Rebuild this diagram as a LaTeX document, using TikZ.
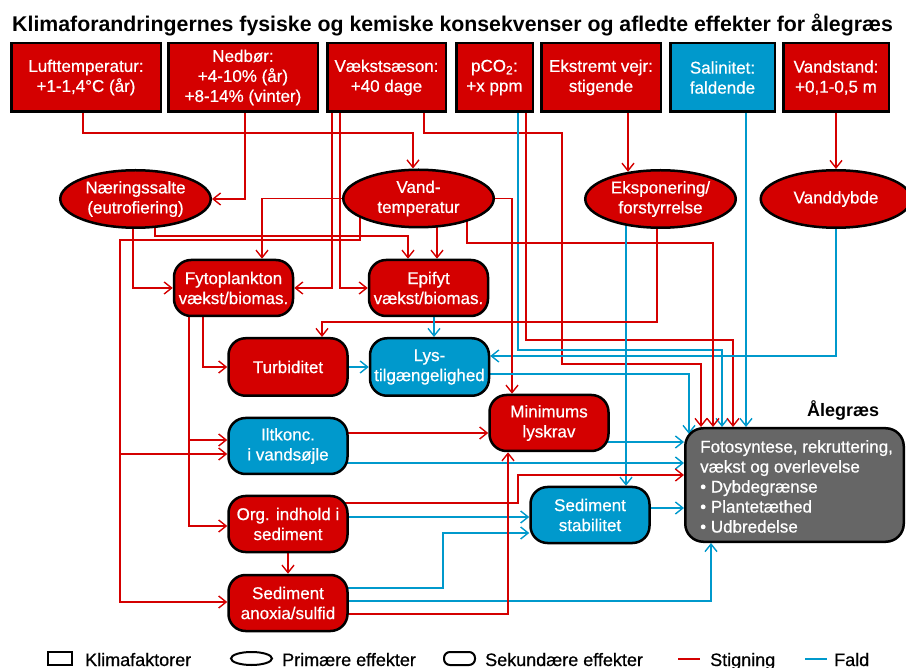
\documentclass[tikz,border=0pt]{standalone}
\usepackage{fontspec}
\setmainfont{Liberation Sans}
\newfontfamily\heavyfont{Liberation Sans}[FakeBold=0.6]
\usetikzlibrary{arrows.meta,backgrounds,shapes.geometric}
\definecolor{rd}{RGB}{212,0,0}
\definecolor{bl}{RGB}{0,153,204}
\definecolor{gr}{RGB}{102,102,102}
\begin{document}
\begin{tikzpicture}[x=1pt,y=-1pt,
  txt/.style={font=\heavyfont\fontsize{17}{20}\selectfont, text=white, align=center},
  klima/.style={txt, rectangle, draw=black, line width=2.5pt, fill=rd, minimum height=68.5pt, inner sep=0pt},
  prim/.style={txt, ellipse, draw=black, line width=2.5pt, fill=rd, minimum width=150.5pt, minimum height=57.5pt, inner sep=0pt},
  sek/.style={txt, rectangle, rounded corners=17pt, draw=black, line width=2.5pt, fill=rd, minimum width=119pt, minimum height=56pt, inner sep=0pt},
  blue/.style={fill=bl},
  rl/.style={draw=rd, line width=1.4pt, -{Straight Barb[length=7.5pt,width=12pt,line width=1.4pt]}},
  bla/.style={draw=bl, line width=1.4pt, -{Straight Barb[length=7.5pt,width=12pt,line width=1.4pt]}},
  leg/.style={font=\heavyfont\fontsize{18}{20}\selectfont, anchor=base west, inner sep=0pt}
]
\useasboundingbox (0,0) rectangle (906,668);

% title
\node[anchor=base west, inner sep=0pt, font=\fontsize{21.3}{24}\selectfont\bfseries] (title) at (12,32) {Klimaforandringernes fysiske og kemiske konsekvenser og afledte effekter for ålegræs};

% climate factors
\node[klima, minimum width=149.5pt] (luft) at (86,77.5) {Lufttemperatur:\\+1-1,4°C (år)};
\node[klima, minimum width=149.5pt] (nedb) at (243,77.5) {Nedbør:\\+4-10\% (år)\\+8-14\% (vinter)};
\node[klima, minimum width=118.5pt] (vaekst) at (386.5,77.5) {Vækstsæson:\\+40 dage};
\node[klima, minimum width=76.5pt] (pco) at (494.5,77.5) {pCO\textsubscript{2}:\\+x ppm};
\node[klima, minimum width=119.5pt] (ekst) at (601,77.5) {Ekstremt vejr:\\stigende};
\node[klima, blue, minimum width=104.5pt] (salin) at (722.5,77.5) {Salinitet:\\faldende};
\node[klima, minimum width=105.5pt] (vandst) at (836,77.5) {Vandstand:\\+0,1-0,5 m};

% primary effects
\node[prim] (naer) at (135.5,199) {Næringssalte\\(eutrofiering)};
\node[prim] (vtemp) at (418.5,198.5) {Vand-\\temperatur};
\node[prim] (eksp) at (660.5,199) {Eksponering/\\forstyrrelse};
\node[prim] (vdyb) at (836,199) {Vanddybde};

% secondary effects
\node[sek] (fyto) at (233.5,288) {Fytoplankton\\vækst/biomas.};
\node[sek] (epi) at (428.5,288) {Epifyt\\vækst/biomas.};
\node[sek, minimum height=57.5pt] (turb) at (288,367) {Turbiditet};
\node[sek, blue, minimum height=57.5pt] (lys) at (429.5,367) {Lys-\\tilgængelighed};
\node[sek, blue] (ilt) at (288,446) {Iltkonc.\\i vandsøjle};
\node[sek] (minl) at (549,423) {Minimums\\lyskrav};
\node[sek] (org) at (288,524) {Org. indhold i\\sediment};
\node[sek] (sedan) at (288,603) {Sediment\\anoxia/sulfid};
\node[sek, blue] (sedst) at (590,515) {Sediment\\stabilitet};

% eelgrass
\node[rectangle, rounded corners=18pt, draw=black, line width=2.5pt, fill=gr, minimum width=218.5pt, minimum height=113.5pt, inner sep=0pt] (aal) at (794.5,485) {};
\node[anchor=north west, inner sep=0pt, align=left, text=white, font=\heavyfont\fontsize{17}{20}\selectfont] (aaltxt) at (700,440) {Fotosyntese, rekruttering,\\vækst og overlevelse\\• Dybdegrænse\\• Plantetæthed\\• Udbredelse};
\node[anchor=base west, inner sep=0pt, font=\fontsize{18}{20}\selectfont\bfseries] (aallab) at (807,417) {Ålegræs};

% connectors
\begin{scope}[on background layer]
\draw[rl] ([xshift=-3pt]luft.center) |- (413,133) -- ([xshift=-5.5pt]vtemp.north);
\draw[rl] ([xshift=2pt]nedb.center) |- (naer.east);
\draw[rl] ([xshift=-54.5pt]vaekst.center) |- (fyto.east);
\draw[rl] ([xshift=-46.5pt]vaekst.center) |- (epi.west);
\draw[rl] ([xshift=37.5pt]vaekst.center) |- (562,133) |- (701,364) -- ([xshift=-93.5pt]aal.north);
\draw[bla] ([xshift=23.5pt]pco.center) |- (722,350) -- ([xshift=-72.5pt]aal.north);
\draw[rl] ([xshift=31.5pt]pco.center) |- (733,340) -- ([xshift=-61.5pt]aal.north);
\draw[rl] ([xshift=27pt]ekst.center) -- ([xshift=-32.5pt,yshift=-2.8pt]eksp.north);
\draw[bla] ([xshift=23.5pt]salin.center) -- ([xshift=-48.5pt]aal.north);
\draw[rl] (vandst.center) -- (vdyb.north);
\draw[bla] (vdyb.center) |- ([yshift=11pt]lys.east);
\draw[rl] ([xshift=-2.5pt]naer.center) |- (fyto.west);
\draw[rl] ([xshift=19.5pt]naer.center) |- (408,236) -- ([xshift=-20.5pt]epi.north);
\draw[rl] (vtemp.center) -| ([xshift=28.5pt]fyto.north);
\draw[rl] ([xshift=-58.5pt]vtemp.center) |- (120,240) |- ([yshift=1pt]sedan.west);
\coordinate (vbr) at (120,454);
\draw[rl] (vbr) -- ([yshift=-8pt]ilt.west);
\draw[rl] ([xshift=18.5pt]vtemp.center) -- ([xshift=8.5pt]epi.north);
\draw[rl] ([xshift=48.5pt]vtemp.center) |- (713,243) -- ([xshift=-81.5pt]aal.north);
\draw[rl] (vtemp.center) -| ([xshift=-37pt]minl.north);
\draw[bla] ([xshift=-34.5pt]eksp.center) -- ([xshift=36pt]sedst.north);
\draw[rl] ([xshift=-3.5pt]eksp.center) |- (322,322) -- ([xshift=34pt]turb.north);
\draw[rl] ([xshift=-44.5pt]fyto.center) |- ([yshift=-2pt]org.west);
\coordinate (fbr) at (189,440);
\draw[rl] (fbr) -- ([yshift=6pt]ilt.west);
\draw[rl] ([xshift=-30.5pt]fyto.center) |- (turb.west);
\draw[bla] ([xshift=5.5pt]epi.center) -- ([xshift=4.5pt]lys.north);
\draw[bla] (turb.east) -- (lys.west);
\draw[bla] ([yshift=-7pt]lys.center) -| ([xshift=-105.5pt,yshift=-7pt]aal.north);
\draw[rl] ([yshift=13pt]ilt.center) -- ([yshift=-10pt]minl.west);
\draw[bla] ([yshift=-17pt]ilt.center) -- ([yshift=22pt]aal.west);
\draw[bla] ([yshift=-19pt]minl.center) -- ([yshift=43pt]aal.west);
\draw[rl] ([yshift=21pt]org.center) -| (518,475) -- ([yshift=10pt]aal.west);
\draw[bla] ([yshift=7pt]org.center) -- ([yshift=-2pt]sedst.west);
\draw[bla] ([yshift=15pt]sedan.center) -| (443,533) -- ([yshift=-18pt]sedst.west);
\draw[bla] ([yshift=2pt]sedan.center) -| ([xshift=-83.5pt]aal.south);
\draw[rl] ([yshift=-11pt]sedan.center) -| ([xshift=-41pt]minl.south);
\draw[bla] ([yshift=7pt]sedst.center) -- ([yshift=-23pt]aal.west);
\draw[rl] (org) -- (sedan);
\end{scope}

% legend
\node[draw=black, line width=2pt, minimum width=24pt, minimum height=13pt, inner sep=0pt] (lg1) at (60,658.5) {};
\node[leg] (lt1) at (85,666) {Klimafaktorer};
\node[ellipse, draw=black, line width=2pt, minimum width=41pt, minimum height=13pt, inner sep=0pt] (lg2) at (251.5,658.5) {};
\node[leg] (lt2) at (282,666) {Primære effekter};
\node[draw=black, line width=2pt, rounded corners=6pt, minimum width=31pt, minimum height=13pt, inner sep=0pt] (lg3) at (459.5,658.5) {};
\node[leg] (lt3) at (485,666) {Sekundære effekter};
\coordinate (lr1) at (678,659); \coordinate (lr2) at (700,659);
\draw[draw=rd, line width=1.4pt] (lr1) -- (lr2);
\node[leg] (lt4) at (710,666) {Stigning};
\coordinate (lb1) at (805,659); \coordinate (lb2) at (827,659);
\draw[draw=bl, line width=1.4pt] (lb1) -- (lb2);
\node[leg] (lt5) at (834,666) {Fald};
\end{tikzpicture}
\end{document}
